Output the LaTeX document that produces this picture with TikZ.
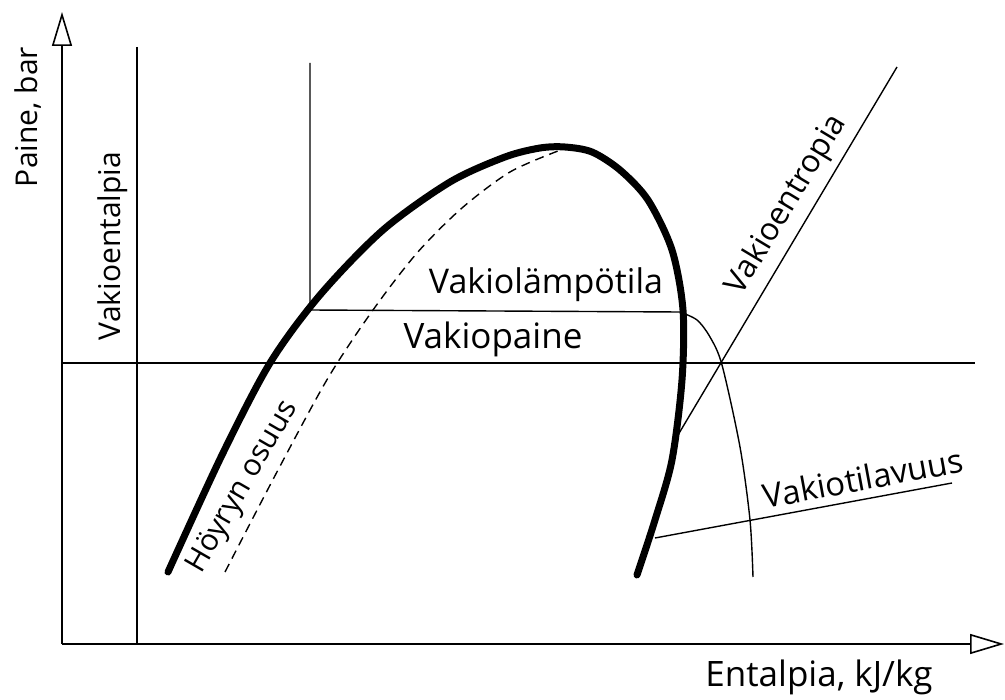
\documentclass[tikz,border=0pt]{standalone}
\usepackage{fontspec}
\setmainfont{Open Sans}
\usetikzlibrary{arrows.meta}

\tikzset{
  axis/.style={line width=1.6pt, -{Triangle[open, length=34pt, width=20pt, line width=1.6pt]}},
  thinline/.style={line width=1.4pt},
  txt/.style={font=\fontsize{#1}{#1}\selectfont, inner sep=0pt},
  txt/.default=34
}

\begin{document}
\begin{tikzpicture}[x=1pt, y=-1pt]
  \useasboundingbox (0,0) rectangle (1005,700);

  % Axes
  \draw[axis] (62,644) -- (62,12);
  \draw[axis] (62,644) -- (1004,644);
  \node[txt=30, rotate=90] (paine) at (28,117) {Paine, bar};
  \node[txt=35] (entalpia) at (819,677) {Entalpia, kJ/kg};

  % Constant enthalpy and constant pressure
  \draw[thinline] (137,47) -- (137,644);
  \node[txt=30, rotate=90] (entalpialbl) at (113,246) {Vakioentalpia};
  \draw[thinline] (62,363) -- (975,363);
  \node[txt=35] (painelbl) at (493,339) {Vakiopaine};

  % Saturation dome
  \draw[line width=7pt, line cap=round] plot[smooth] coordinates {
    (168,572) (222,455) (270,363) (320,295) (383,230) (450,182) (505,157)
    (540,148) (565,147) (592,152) (620,170) (648,200) (672,250) (683,310)
    (682,380) (672,460) (655,520) (637,575)};
  \draw[thinline, dash pattern=on 9pt off 6pt] plot[smooth] coordinates {
    (225,572) (278,470) (328,378) (373,310) (417,253) (462,208) (510,172)
    (558,151)};
  \node[txt=30, rotate=60] (hoyry) at (243,487) {Höyryn osuus};

  % Constant temperature
  \draw[thinline] (310,63) -- (310,310) -- (680,312);
  \draw[thinline] plot[smooth] coordinates {
    (680,312) (697,320) (710,337) (722,365) (740,447) (750,520) (753,577)};
  \node[txt=34] (lampolbl) at (546,285) {Vakiolämpötila};

  % Constant entropy and constant volume
  \draw[thinline] (678,435) -- (897,67);
  \node[txt=31.5, rotate=59] (entropialbl) at (787,205) {Vakioentropia};
  \draw[thinline] (655,538) -- (952,483);
  \node[txt=33, rotate=10.5] (tilavuuslbl) at (863,478) {Vakiotilavuus};
\end{tikzpicture}
\end{document}
